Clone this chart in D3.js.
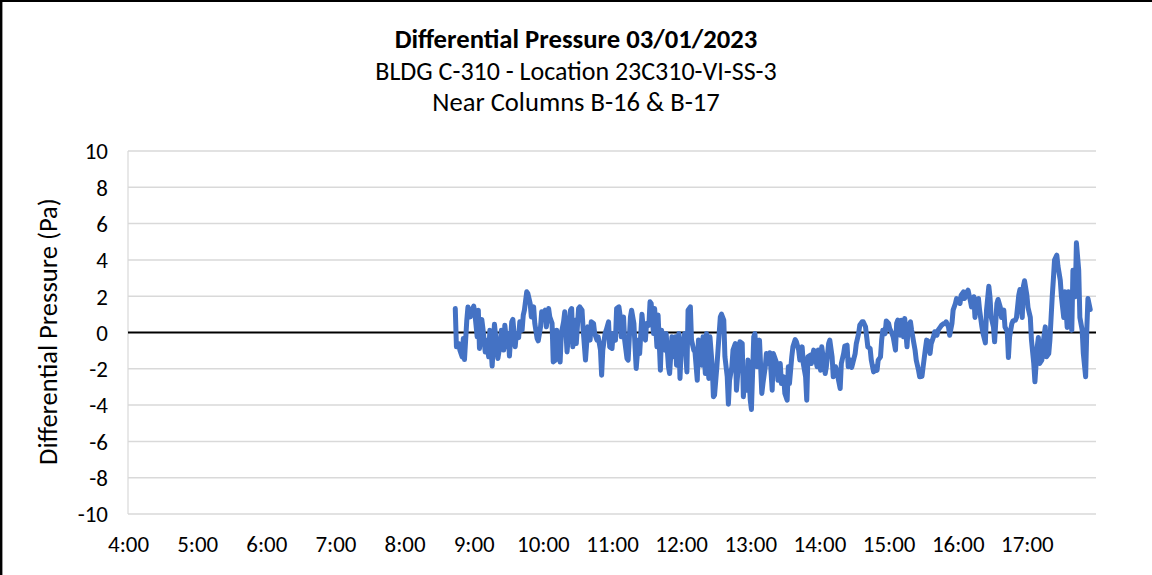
<!DOCTYPE html>
<html><head><meta charset="utf-8">
<script src="https://cdn.jsdelivr.net/npm/d3@7"></script>
<style>
body{margin:0;background:#fff}
svg{display:block}
text{font-family:Carlito,Calibri,Lato,sans-serif;fill:#000}
</style>
</head><body>
<svg id="chart" width="1152" height="575"></svg>
<script>
const titleLines = ["Differential Pressure 03/01/2023", "BLDG C-310 - Location 23C310-VI-SS-3", "Near Columns B-16 & B-17"];
const yAxisTitle = "Differential Pressure (Pa)";
const yTickValues = [-10, -8, -6, -4, -2, 0, 2, 4, 6, 8, 10];
const xTickLabels = ["4:00","5:00","6:00","7:00","8:00","9:00","10:00","11:00","12:00","13:00","14:00","15:00","16:00","17:00"];
const xDomainLabels = ["4:00", "18:00"];

const times = [
"8:44","8:45","8:47","8:48","8:50","8:51","8:52","8:54","8:55","8:57",
"8:58","9:00","9:01","9:03","9:04","9:05","9:07","9:08","9:10","9:11",
"9:13","9:14","9:16","9:17","9:18","9:20","9:21","9:23","9:24","9:26",
"9:27","9:29","9:30","9:31","9:33","9:34","9:36","9:37","9:39","9:40",
"9:42","9:43","9:44","9:46","9:47","9:49","9:50","9:52","9:53","9:55",
"9:56","9:58","9:59","10:00","10:02","10:03","10:05","10:06","10:08","10:09",
"10:11","10:12","10:13","10:15","10:16","10:18","10:19","10:21","10:22","10:24",
"10:25","10:26","10:28","10:29","10:31",
"10:32","10:34","10:35","10:37","10:38","10:39","10:41","10:42","10:44","10:45",
"10:47","10:48","10:50","10:51","10:52","10:54","10:55","10:57","10:58","11:00",
"11:01","11:03","11:04","11:06","11:07","11:08","11:10","11:11","11:13","11:14",
"11:16","11:17","11:19","11:20","11:21","11:23","11:24","11:26","11:27","11:29",
"11:30","11:32","11:33","11:34","11:36","11:37","11:39","11:40","11:42","11:43",
"11:45","11:46","11:47","11:49","11:50","11:52","11:53","11:55","11:56","11:58",
"11:59","12:00","12:02","12:03","12:05","12:06","12:08","12:09","12:11","12:12",
"12:14","12:15","12:16","12:18","12:19","12:21","12:22","12:24","12:25",
"12:27","12:28","12:29","12:31","12:32","12:34","12:35","12:37","12:38","12:40",
"12:41","12:42","12:44","12:45","12:47","12:48","12:50","12:51","12:53","12:54",
"12:55","12:57","12:58","13:00","13:01","13:03","13:04","13:06","13:07","13:08",
"13:10","13:11","13:13","13:14","13:16","13:17","13:19","13:20","13:21","13:23",
"13:24","13:26","13:27","13:29","13:30","13:32","13:33","13:34","13:36","13:37",
"13:39","13:40","13:42","13:43","13:45","13:46","13:48","13:49","13:50","13:52",
"13:53","13:55","13:56","13:58","13:59","14:01","14:02","14:03","14:05","14:06",
"14:08","14:09","14:11","14:12",
"14:14","14:15","14:16","14:18","14:19","14:21","14:22","14:24","14:25","14:27",
"14:28","14:29","14:31","14:32","14:34","14:35","14:37","14:38","14:40","14:41",
"14:42","14:44","14:45","14:47","14:48","14:50","14:51","14:53","14:54","14:55",
"14:57","14:58","15:00","15:01","15:03","15:04","15:06","15:07","15:08","15:10",
"15:11","15:13","15:14","15:16","15:17","15:19","15:20","15:22","15:23","15:24",
"15:26","15:27","15:29","15:30","15:32","15:33","15:35","15:36","15:37","15:39",
"15:40","15:42","15:43","15:45","15:46","15:48","15:49","15:50","15:52","15:53",
"15:55","15:56","15:58","15:59","16:01",
"16:02","16:03","16:05","16:06","16:08","16:09","16:11","16:12","16:14","16:15",
"16:16","16:18","16:19","16:21","16:22","16:24","16:25","16:27","16:28","16:29",
"16:31","16:32","16:34","16:35","16:37","16:38","16:40","16:41","16:43","16:44",
"16:45","16:47","16:48","16:50","16:51","16:53","16:54","16:56","16:57","16:58",
"17:00","17:01","17:03","17:04","17:06","17:07","17:09","17:10","17:11","17:13",
"17:14","17:16","17:17","17:19","17:20","17:22","17:23","17:24","17:26","17:27",
"17:29","17:30","17:32","17:33","17:35","17:36","17:37","17:39","17:40","17:42",
"17:43","17:45","17:46","17:48","17:49","17:51","17:52","17:53","17:55"
];

const pressure = [
1.32,-0.79,-0.61,-0.97,-1.34,-0.33,-1.49,0.68,1.41,0.86,
1.14,1.45,1.05,-0.24,1.23,-0.88,0.72,0.22,-1.07,-0.42,
-1.34,0.13,-1.85,-0.79,0.46,-0.79,-1.43,-0.61,0.13,-0.97,
0.40,-0.79,-0.06,-1.30,0.59,0.72,-0.79,-0.06,-0.28,0.59,
0.13,0.96,1.23,2.24,2.15,1.60,0.86,1.41,0.50,-0.33,
-0.46,0.31,1.14,1.05,1.23,0.31,1.32,0.86,0.50,-1.62,
-1.52,0.13,-0.42,-1.62,-0.06,0.59,1.14,-1.07,-0.24,1.23,
1.32,-0.79,0.68,-0.61,1.32,
1.41,1.23,0.13,-1.52,-0.61,0.31,-0.42,0.59,0.50,-0.06,
-0.42,-0.24,-0.97,-2.35,-0.97,-0.06,0.13,0.59,-0.79,-0.88,
-0.06,-0.42,1.32,1.41,0.96,-0.24,0.86,-0.42,-1.43,-1.52,
0.86,1.23,0.50,-0.79,-1.98,-0.42,-1.16,1.01,0.31,-0.42,
0.50,0.40,1.69,1.60,-0.06,1.32,-0.79,0.96,-2.08,0.13,
-0.61,-0.97,-0.06,-1.89,-2.26,-0.24,-1.34,-0.24,-1.80,-0.06,
-2.53,-0.97,-0.42,-0.06,-2.17,1.23,1.41,-0.42,-0.97,-1.07,
-2.63,-0.42,-1.16,-1.80,-0.24,-2.26,-0.06,-2.53,-0.24,
-1.89,-3.54,-3.45,-1.89,-0.97,0.86,1.01,0.68,-1.34,-2.44,
-3.95,-2.63,-1.89,-0.97,-0.61,-3.18,-1.52,-0.51,-0.61,-3.54,
-2.44,-3.18,-1.52,-3.73,-4.24,-0.24,-0.06,-1.89,-1.52,-0.42,
-3.36,-2.81,-1.89,-1.16,-1.71,-1.12,-3.18,-1.16,-1.34,-1.71,
-2.63,-1.71,-2.81,-2.44,-3.36,-3.73,-1.89,-2.81,-1.34,-0.79,
-0.39,-0.51,-0.97,-1.52,-0.79,-1.71,-2.44,-3.73,-1.34,-1.25,
-1.71,-0.97,-1.25,-1.89,-0.97,-2.08,-0.79,-1.25,-2.26,-1.89,
-0.61,-0.42,-1.34,-2.44,
-1.89,-2.08,-2.44,-3.09,-1.71,-1.16,-0.75,-0.70,-1.89,-1.52,
-1.93,-1.67,-1.16,-0.61,-0.06,0.40,0.59,0.59,0.31,-0.24,
-0.79,-0.88,-1.52,-2.17,-1.89,-2.08,-1.52,-1.34,-0.42,0.13,
-0.06,0.64,0.50,0.22,-0.06,-0.24,-0.97,0.50,0.68,-0.15,
0.68,-0.24,0.77,-0.79,0.31,0.59,0.13,-0.61,-0.97,-1.52,
-2.08,-2.44,-2.41,-1.89,-0.88,-0.42,-0.51,-1.16,-0.61,-0.24,
0.04,-0.15,0.13,0.31,0.40,0.50,0.50,0.59,0.31,-0.15,
0.50,1.23,1.60,1.87,1.69,
1.60,2.06,2.24,1.87,2.24,2.33,1.74,1.41,1.97,0.83,
1.78,1.87,1.23,0.31,-0.06,-0.57,1.23,2.55,1.97,0.86,
0.31,-0.51,1.60,1.82,1.38,0.83,1.23,0.31,0.04,-1.38,
-0.24,0.50,0.64,0.68,0.83,2.06,2.37,0.83,2.55,2.85,
2.06,1.38,0.83,-0.42,-1.71,-2.72,-0.79,-0.28,-1.71,-1.52,
-0.61,0.31,-1.34,-1.16,-0.42,1.97,2.92,3.99,4.26,3.65,
2.88,1.97,0.83,2.24,0.28,2.24,1.23,0.13,3.43,1.97,
4.94,3.43,0.83,0.13,-1.16,-2.44,0.13,1.87,1.27
];

// ---- helpers ----
const toMin = s => { const [h, m] = s.split(":").map(Number); return h * 60 + m; };
const n = Math.min(times.length, pressure.length);
const data = d3.range(n).map(i => ({ t: toMin(times[i]), v: pressure[i] }));

const W = 1152, H = 575;
const plot = { left: 128, right: 1096, top: 151, bottom: 514 };
const svg = d3.select("#chart");
svg.append("rect").attr("width", W).attr("height", H).attr("fill", "#fff");

const x = d3.scaleLinear().domain(xDomainLabels.map(toMin)).range([plot.left, plot.right]);
const y = d3.scaleLinear().domain([-10, 10]).range([plot.bottom, plot.top]);

function fitWidth(sel, target) {
  const len = sel.node().getComputedTextLength();
  const fs = parseFloat(sel.attr("font-size"));
  sel.attr("font-size", fs * target / len);
  return fs * target / len;
}

// outer border (left and top visible)
svg.append("path").attr("d", `M1.2,${H} L1.2,0.8 L${W},0.8`)
  .attr("fill", "none").attr("stroke", "#000").attr("stroke-width", 2.4);

// gridlines
svg.append("g").selectAll("line").data(yTickValues.filter(d => d !== 0)).join("line")
  .attr("x1", plot.left).attr("x2", plot.right)
  .attr("y1", d => y(d)).attr("y2", d => y(d))
  .attr("stroke", "#d9d9d9").attr("stroke-width", 1.5);
// left vertical axis line (light)
svg.append("line").attr("x1", plot.left).attr("x2", plot.left)
  .attr("y1", plot.top).attr("y2", plot.bottom)
  .attr("stroke", "#d9d9d9").attr("stroke-width", 1.2);
// zero line
svg.append("line").attr("x1", plot.left).attr("x2", plot.right)
  .attr("y1", y(0)).attr("y2", y(0))
  .attr("stroke", "#000").attr("stroke-width", 1.8);

// tick label font size, fitted to reference label width
const probe = svg.append("text").attr("font-size", 20).text("10:00");
const tickFs = fitWidth(probe, 52.7);
probe.remove();

// Y tick labels (plain hyphen-minus, as in the reference)
const yAxis = d3.axisLeft(y).tickValues(yTickValues).tickSize(0).tickFormat(d => String(d));
const gy = svg.append("g").attr("transform", `translate(${plot.left},0)`).call(yAxis);
gy.select(".domain").remove();
gy.selectAll("text").attr("font-size", tickFs).attr("font-family", null).attr("fill", "#000")
  .attr("x", 108 - plot.left).attr("dy", "0.34em");

// X tick labels
const xAxis = d3.axisBottom(x).tickValues(xTickLabels.map(toMin)).tickSize(0)
  .tickFormat((d, i) => xTickLabels[i]);
const gx = svg.append("g").attr("transform", `translate(0,${plot.bottom})`).call(xAxis);
gx.select(".domain").remove();
gx.selectAll("text").attr("font-size", tickFs).attr("font-family", null).attr("fill", "#000")
  .attr("y", 38).attr("dy", 0);

// data line
const line = d3.line().x(d => x(d.t)).y(d => y(d.v));
svg.append("path").datum(data).attr("d", line)
  .attr("fill", "none").attr("stroke", "#4472C4").attr("stroke-width", 5)
  .attr("stroke-linejoin", "round").attr("stroke-linecap", "round");

// titles
const titleY = [48, 80, 111];
const titleW = [363, 401.6, 287.6];
titleLines.forEach((t, i) => {
  const el = svg.append("text").attr("x", 576).attr("y", titleY[i])
    .attr("text-anchor", "middle").attr("font-size", 20)
    .attr("font-weight", i === 0 ? "bold" : "normal").text(t);
  fitWidth(el, titleW[i]);
});

// y axis title
const yt = svg.append("text").attr("transform", `translate(57,331.5) rotate(-90)`)
  .attr("text-anchor", "middle").attr("font-size", 20).text(yAxisTitle);
fitWidth(yt, 267);
</script>
</body></html>
